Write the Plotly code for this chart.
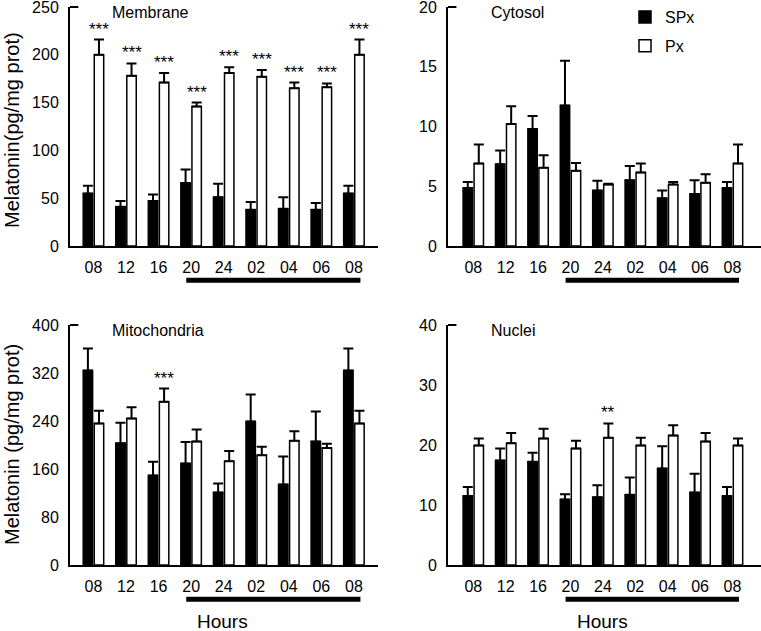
import plotly.graph_objects as go

hours = ["08", "12", "16", "20", "24", "02", "04", "06", "08"]

membrane_spx = [55, 41, 47, 66, 51, 38, 39, 38, 55]
membrane_spx_err = [8, 6, 7, 14, 14, 8, 12, 7, 8]
membrane_px = [200, 178, 171, 146, 181, 177, 165, 166, 200]
membrane_px_err = [16, 13, 10, 4, 6, 7, 6, 4, 16]
membrane_sig = ["***"] * 9

cytosol_spx = [4.85, 6.85, 9.8, 11.75, 4.65, 5.5, 4.0, 4.35, 4.85]
cytosol_spx_err = [0.5, 1.15, 1.08, 3.75, 0.8, 1.2, 0.65, 1.15, 0.5]
cytosol_px = [6.9, 10.2, 6.55, 6.3, 5.15, 6.15, 5.15, 5.3, 6.9]
cytosol_px_err = [1.6, 1.5, 1.05, 0.65, 0.05, 0.75, 0.2, 0.7, 1.6]
cytosol_sig = [""] * 9

mito_spx = [324, 203, 149, 169, 121, 239, 134, 206, 324]
mito_spx_err = [37, 34, 23, 36, 15, 45, 47, 50, 37]
mito_px = [236, 244, 272, 206, 173, 183, 207, 195, 236]
mito_px_err = [21, 19, 22, 20, 17, 14, 16, 7, 21]
mito_sig = ["", "", "***", "", "", "", "", "", ""]

nuclei_spx = [11.5, 17.4, 17.2, 10.9, 11.3, 11.7, 16.1, 12.1, 11.5]
nuclei_spx_err = [1.5, 2.0, 1.5, 0.9, 2.0, 2.9, 3.7, 3.1, 1.5]
nuclei_px = [19.9, 20.3, 21.1, 19.4, 21.2, 19.9, 21.6, 20.6, 19.9]
nuclei_px_err = [1.2, 1.7, 1.6, 1.3, 2.4, 1.3, 1.7, 1.4, 1.2]
nuclei_sig = ["", "", "", "", "**", "", "", "", ""]

panel_titles = ["Membrane", "Cytosol", "Mitochondria", "Nuclei"]
y_ranges = [[0, 250], [0, 20], [0, 400], [0, 40]]
y_ticks = [[0, 50, 100, 150, 200, 250], [0, 5, 10, 15, 20],
           [0, 80, 160, 240, 320, 400], [0, 10, 20, 30, 40]]
night_start = "20"

FONT = "Liberation Sans, Arial, sans-serif"
W, H = 761, 631

panels = [
    (membrane_spx, membrane_spx_err, membrane_px, membrane_px_err, membrane_sig),
    (cytosol_spx, cytosol_spx_err, cytosol_px, cytosol_px_err, cytosol_sig),
    (mito_spx, mito_spx_err, mito_px, mito_px_err, mito_sig),
    (nuclei_spx, nuclei_spx_err, nuclei_px, nuclei_px_err, nuclei_sig),
]

x_dom = [[70 / W, 378 / W], [448 / W, 1.0], [70 / W, 378 / W], [448 / W, 1.0]]
y_dom = [[(H - 246) / H, (H - 7) / H], [(H - 246) / H, (H - 7) / H],
         [(H - 565) / H, (H - 325) / H], [(H - 565) / H, (H - 325) / H]]
x_rng = [[-0.72, 8.74], [-0.78, 8.88], [-0.72, 8.74], [-0.78, 8.88]]

xs = list(range(len(hours)))
bw = 0.29
fig = go.Figure()
annotations = []
shapes = []

for i, (spx, spx_e, px, px_e, sig) in enumerate(panels):
    n = i + 1
    xa = "x" if n == 1 else f"x{n}"
    ya = "y" if n == 1 else f"y{n}"
    fig.add_trace(go.Bar(
        x=xs, y=spx, width=bw, offset=-0.315, xaxis=xa, yaxis=ya,
        name="SPx", showlegend=(n == 2), legendgroup="a",
        marker=dict(color="black", line=dict(color="black", width=1.5)),
        error_y=dict(type="data", array=spx_e, arrayminus=[0] * len(spx),
                     symmetric=False, color="black", thickness=2, width=5),
    ))
    fig.add_trace(go.Bar(
        x=xs, y=px, width=bw, offset=0.025, xaxis=xa, yaxis=ya,
        name="Px", showlegend=(n == 2), legendgroup="b",
        marker=dict(color="white", line=dict(color="black", width=1.5)),
        error_y=dict(type="data", array=px_e, arrayminus=[0] * len(px),
                     symmetric=False, color="black", thickness=2, width=5),
    ))
    for k, s in enumerate(sig):
        if s:
            annotations.append(dict(
                x=xs[k] + 0.17, y=px[k] + px_e[k], xref=xa, yref=ya,
                text=s, showarrow=False, xanchor="center", yanchor="bottom", yshift=-1,
                font=dict(family=FONT, size=17, color="black")))
    annotations.append(dict(
        x=0.13, y=1.0, xref=f"{xa} domain", yref=f"{ya} domain",
        text=panel_titles[i], showarrow=False, xanchor="left", yanchor="middle",
        yshift=-5, font=dict(family=FONT, size=16, color="black")))
    start = hours.index(night_start) - 0.15
    end = xs[-1] + 0.2
    shapes.append(dict(type="line", xref=xa, yref=f"{ya} domain",
                       x0=start, x1=end, y0=-0.143, y1=-0.143,
                       line=dict(color="black", width=5)))
    shapes.append(dict(type="line", xref=f"{xa} domain", yref=f"{ya} domain",
                       x0=0, x1=0.027, y0=1, y1=1,
                       line=dict(color="black", width=2)))

    axis_common = dict(showline=True, linecolor="black", linewidth=2,
                       showgrid=False, zeroline=False, ticks="", automargin=False,
                       ticklabeloverflow="allow",
                       tickfont=dict(family=FONT, size=16, color="black"))
    fig.update_layout(**{
        ("xaxis" if n == 1 else f"xaxis{n}"): dict(
            domain=x_dom[i], range=x_rng[i], anchor=ya,
            tickvals=xs, ticktext=hours, ticklabelstandoff=6, **axis_common),
        ("yaxis" if n == 1 else f"yaxis{n}"): dict(
            domain=y_dom[i], range=y_ranges[i], anchor=xa,
            tickvals=y_ticks[i], ticklabelstandoff=6, **axis_common),
    })

annotations.append(dict(x=12 / W, y=(H - 130) / H, xref="paper", yref="paper",
                        xanchor="center", yanchor="middle",
                        text="Melatonin(pg/mg prot)", textangle=-90, showarrow=False,
                        font=dict(family=FONT, size=20, color="black")))
annotations.append(dict(x=12 / W, y=(H - 445) / H, xref="paper", yref="paper",
                        xanchor="center", yanchor="middle",
                        text="Melatonin (pg/mg prot)", textangle=-90, showarrow=False,
                        font=dict(family=FONT, size=20, color="black")))
for xc in (222, 602):
    annotations.append(dict(x=xc / W, y=(H - 621) / H, xref="paper", yref="paper",
                            xanchor="center", yanchor="middle",
                            text="Hours", showarrow=False,
                            font=dict(family=FONT, size=19, color="black")))

fig.update_layout(
    width=W, height=H, margin=dict(l=0, r=0, t=0, b=0, autoexpand=False),
    paper_bgcolor="white", plot_bgcolor="white",
    barmode="overlay", annotations=annotations, shapes=shapes,
    legend=dict(x=625 / W, y=1.0, xanchor="left", yanchor="top",
                font=dict(family=FONT, size=16, color="black"),
                tracegroupgap=5, bgcolor="rgba(0,0,0,0)"),
)

fig.write_html("out.html", config={"displayModeBar": False},
               post_script="document.body.style.margin='0';")
